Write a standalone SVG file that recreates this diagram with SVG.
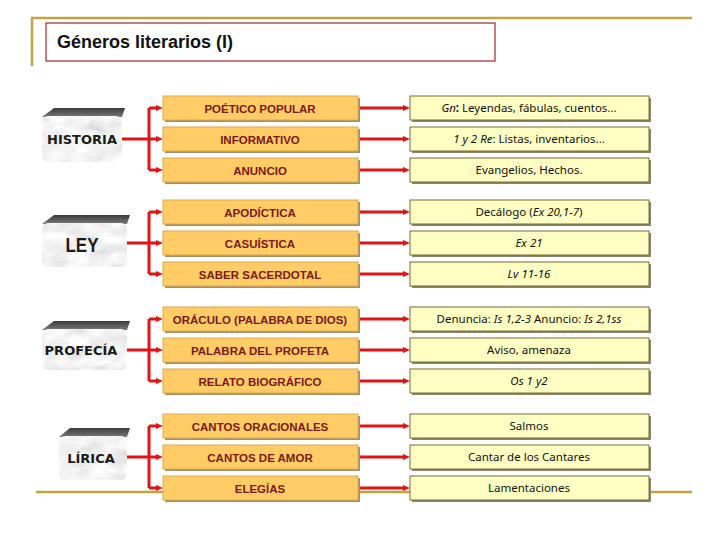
<svg xmlns="http://www.w3.org/2000/svg" width="728" height="546" viewBox="0 0 728 546">
<defs>
<style>
.mid rect.b{fill:#FFCC66;stroke:#E0A848;stroke-width:1}
.mid rect.s{fill:#A09070}
.rgt rect.b{fill:#FFFFC4;stroke:#7A6A30;stroke-width:1}
.rgt rect.s{fill:#8C8470}
.mt{font-family:"Liberation Sans",Arial,sans-serif;font-weight:bold;font-size:11.5px;fill:#7A1A1A;text-anchor:middle}
.rt{font-family:"Noto Sans","DejaVu Sans",sans-serif;font-size:11.5px;fill:#111;text-anchor:middle}
.nt{font-family:"DejaVu Sans",Verdana,sans-serif;font-weight:bold;font-size:13px;fill:#1A1A1A;text-anchor:middle}
.con path{fill:none;stroke:#E01414;stroke-width:3}
.gold{stroke:#C2A43C;stroke-width:2.5;fill:none}
.bev{fill:url(#bevg)}
.body{fill:#DDD;filter:url(#marble)}
</style>
<linearGradient id="bevg" x1="0" y1="0" x2="0" y2="1">
<stop offset="0" stop-color="#3A3A3A"/><stop offset="1" stop-color="#7A7A7A"/>
</linearGradient>
<filter id="marble" x="0" y="0" width="1" height="1">
<feTurbulence type="fractalNoise" baseFrequency="0.045 0.09" numOctaves="4" seed="7" result="n"/>
<feColorMatrix in="n" type="matrix" values="0.33 0.33 0.33 0 0  0.33 0.33 0.33 0 0  0.33 0.33 0.33 0 0  0 0 0 0 1" result="g"/>
<feComponentTransfer in="g" result="l">
<feFuncR type="linear" slope="0.75" intercept="0.52"/>
<feFuncG type="linear" slope="0.75" intercept="0.52"/>
<feFuncB type="linear" slope="0.75" intercept="0.52"/>
<feFuncA type="linear" slope="0" intercept="1"/>
</feComponentTransfer>
<feComposite in="l" in2="SourceGraphic" operator="in"/>
</filter>
<marker id="ah" markerUnits="userSpaceOnUse" markerWidth="8" markerHeight="8" refX="0" refY="4" orient="auto">
<path d="M0,1 L7,4 L0,7 z" fill="#E01414"/>
</marker>
</defs>
<rect width="728" height="546" fill="#FFFFFF"/>

<g id="frame">
<path class="gold" d="M31 18 H692 M32 18 V66"/>
<path class="gold" d="M36 492 H692"/>
</g>

<g id="title">
<rect x="46" y="23" width="449" height="38" fill="#FFFFFF" stroke="#A02828" stroke-width="1.2"/>
<text x="57" y="48" font-family="Liberation Sans,Arial,sans-serif" font-weight="bold" font-size="18" fill="#111">Géneros literarios (I)</text>
</g>

<g id="connectors" class="con">
<path d="M122 139 H149 M149 108 V170"/>
<path d="M149 108 H156" marker-end="url(#ah)"/>
<path d="M149 139 H156" marker-end="url(#ah)"/>
<path d="M149 170 H156" marker-end="url(#ah)"/>
<path d="M127 243 H149 M149 212 V274"/>
<path d="M149 212 H156" marker-end="url(#ah)"/>
<path d="M149 243 H156" marker-end="url(#ah)"/>
<path d="M149 274 H156" marker-end="url(#ah)"/>
<path d="M127 350 H149 M149 319 V381"/>
<path d="M149 319 H156" marker-end="url(#ah)"/>
<path d="M149 350 H156" marker-end="url(#ah)"/>
<path d="M149 381 H156" marker-end="url(#ah)"/>
<path d="M127 457 H149 M149 426 V488"/>
<path d="M149 426 H156" marker-end="url(#ah)"/>
<path d="M149 457 H156" marker-end="url(#ah)"/>
<path d="M149 488 H156" marker-end="url(#ah)"/>
<path d="M358 108 H403" marker-end="url(#ah)"/>
<path d="M358 139 H403" marker-end="url(#ah)"/>
<path d="M358 170 H403" marker-end="url(#ah)"/>
<path d="M358 212 H403" marker-end="url(#ah)"/>
<path d="M358 243 H403" marker-end="url(#ah)"/>
<path d="M358 274 H403" marker-end="url(#ah)"/>
<path d="M358 319 H403" marker-end="url(#ah)"/>
<path d="M358 350 H403" marker-end="url(#ah)"/>
<path d="M358 381 H403" marker-end="url(#ah)"/>
<path d="M358 426 H403" marker-end="url(#ah)"/>
<path d="M358 457 H403" marker-end="url(#ah)"/>
<path d="M358 488 H403" marker-end="url(#ah)"/>
</g>

<g id="n-historia">
<polygon class="bev" points="54,108 125,108 122,117 42,117"/>
<rect class="body" x="42" y="116" width="80" height="46" rx="6"/>
<text class="nt" x="82" y="144">HISTORIA</text>
</g>
<g id="n-ley">
<polygon class="bev" points="54,215 130,215 127,224 42,224"/>
<rect class="body" x="42" y="223" width="85" height="44" rx="6"/>
<text x="82" y="252" font-family="Liberation Sans,Arial,sans-serif" font-weight="bold" font-size="20" fill="#1A1A1A" text-anchor="middle" textLength="33" lengthAdjust="spacingAndGlyphs">LEY</text>
</g>
<g id="n-profecia">
<polygon class="bev" points="54,321 130,321 127,330 42,330"/>
<rect class="body" x="42" y="329" width="85" height="41" rx="6"/>
<text class="nt" x="81" y="355">PROFECÍA</text>
</g>
<g id="n-lirica">
<polygon class="bev" points="70,428 130,428 127,437 59,437"/>
<rect class="body" x="59" y="436" width="68" height="44" rx="6"/>
<text class="nt" x="91" y="463" font-size="13.5">LÍRICA</text>
</g>

<g id="m1" class="mid"><rect class="s" x="165" y="98" width="195" height="24"/><rect class="b" x="163" y="96" width="195" height="24"/><text class="mt" x="260" y="112.5">POÉTICO POPULAR</text></g>
<g id="m2" class="mid"><rect class="s" x="165" y="129" width="195" height="24"/><rect class="b" x="163" y="127" width="195" height="24"/><text class="mt" x="260" y="143.5">INFORMATIVO</text></g>
<g id="m3" class="mid"><rect class="s" x="165" y="160" width="195" height="24"/><rect class="b" x="163" y="158" width="195" height="24"/><text class="mt" x="260" y="174.5">ANUNCIO</text></g>
<g id="m4" class="mid"><rect class="s" x="165" y="202" width="195" height="24"/><rect class="b" x="163" y="200" width="195" height="24"/><text class="mt" x="260" y="216.5">APODÍCTICA</text></g>
<g id="m5" class="mid"><rect class="s" x="165" y="233" width="195" height="24"/><rect class="b" x="163" y="231" width="195" height="24"/><text class="mt" x="260" y="247.5">CASUÍSTICA</text></g>
<g id="m6" class="mid"><rect class="s" x="165" y="264" width="195" height="24"/><rect class="b" x="163" y="262" width="195" height="24"/><text class="mt" x="260" y="278.5">SABER SACERDOTAL</text></g>
<g id="m7" class="mid"><rect class="s" x="165" y="309" width="195" height="24"/><rect class="b" x="163" y="307" width="195" height="24"/><text class="mt" x="260" y="323.5">ORÁCULO (PALABRA DE DIOS)</text></g>
<g id="m8" class="mid"><rect class="s" x="165" y="340" width="195" height="24"/><rect class="b" x="163" y="338" width="195" height="24"/><text class="mt" x="260" y="354.5">PALABRA DEL PROFETA</text></g>
<g id="m9" class="mid"><rect class="s" x="165" y="371" width="195" height="24"/><rect class="b" x="163" y="369" width="195" height="24"/><text class="mt" x="260" y="385.5">RELATO BIOGRÁFICO</text></g>
<g id="m10" class="mid"><rect class="s" x="165" y="416" width="195" height="24"/><rect class="b" x="163" y="414" width="195" height="24"/><text class="mt" x="260" y="430.5">CANTOS ORACIONALES</text></g>
<g id="m11" class="mid"><rect class="s" x="165" y="447" width="195" height="24"/><rect class="b" x="163" y="445" width="195" height="24"/><text class="mt" x="260" y="461.5">CANTOS DE AMOR</text></g>
<g id="m12" class="mid"><rect class="s" x="165" y="478" width="195" height="24"/><rect class="b" x="163" y="476" width="195" height="24"/><text class="mt" x="260" y="492.5">ELEGÍAS</text></g>

<g id="r1" class="rgt"><rect class="s" x="412" y="98" width="239" height="24"/><rect class="b" x="410" y="96" width="239" height="24"/><text class="rt" x="529" y="112"><tspan font-style="italic">Gn</tspan><tspan font-weight="bold">:</tspan> Leyendas, fábulas, cuentos...</text></g>
<g id="r2" class="rgt"><rect class="s" x="412" y="129" width="239" height="24"/><rect class="b" x="410" y="127" width="239" height="24"/><text class="rt" x="529" y="143"><tspan font-style="italic">1 y 2 Re</tspan>: Listas, inventarios...</text></g>
<g id="r3" class="rgt"><rect class="s" x="412" y="160" width="239" height="24"/><rect class="b" x="410" y="158" width="239" height="24"/><text class="rt" x="529" y="174">Evangelios, Hechos.</text></g>
<g id="r4" class="rgt"><rect class="s" x="412" y="202" width="239" height="24"/><rect class="b" x="410" y="200" width="239" height="24"/><text class="rt" x="529" y="216">Decálogo (<tspan font-style="italic">Ex 20,1-7</tspan>)</text></g>
<g id="r5" class="rgt"><rect class="s" x="412" y="233" width="239" height="24"/><rect class="b" x="410" y="231" width="239" height="24"/><text class="rt" x="529" y="247" font-style="italic">Ex 21</text></g>
<g id="r6" class="rgt"><rect class="s" x="412" y="264" width="239" height="24"/><rect class="b" x="410" y="262" width="239" height="24"/><text class="rt" x="529" y="278" font-style="italic">Lv 11-16</text></g>
<g id="r7" class="rgt"><rect class="s" x="412" y="309" width="239" height="24"/><rect class="b" x="410" y="307" width="239" height="24"/><text class="rt" x="529" y="323">Denuncia: <tspan font-style="italic">Is 1,2-3</tspan> Anuncio: <tspan font-style="italic">Is 2,1ss</tspan></text></g>
<g id="r8" class="rgt"><rect class="s" x="412" y="340" width="239" height="24"/><rect class="b" x="410" y="338" width="239" height="24"/><text class="rt" x="529" y="354">Aviso, amenaza</text></g>
<g id="r9" class="rgt"><rect class="s" x="412" y="371" width="239" height="24"/><rect class="b" x="410" y="369" width="239" height="24"/><text class="rt" x="529" y="385" font-style="italic">Os 1 y2</text></g>
<g id="r10" class="rgt"><rect class="s" x="412" y="416" width="239" height="24"/><rect class="b" x="410" y="414" width="239" height="24"/><text class="rt" x="529" y="430">Salmos</text></g>
<g id="r11" class="rgt"><rect class="s" x="412" y="447" width="239" height="24"/><rect class="b" x="410" y="445" width="239" height="24"/><text class="rt" x="529" y="461">Cantar de los Cantares</text></g>
<g id="r12" class="rgt"><rect class="s" x="412" y="478" width="239" height="24"/><rect class="b" x="410" y="476" width="239" height="24"/><text class="rt" x="529" y="492">Lamentaciones</text></g>
</svg>
